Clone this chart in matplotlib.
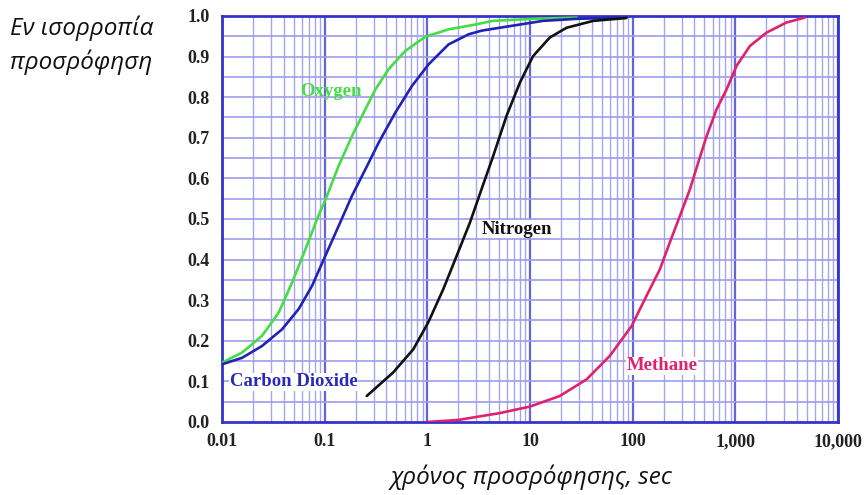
import matplotlib
matplotlib.use("Agg")
import matplotlib.pyplot as plt
import numpy as np
from matplotlib.ticker import FixedLocator, FixedFormatter

# adsorption curves, fraction of equilibrium vs time (sec)
oxygen_t = [0.01, 0.0157, 0.0245, 0.0356, 0.0481, 0.0649, 0.0841, 0.1054,
            0.137, 0.1845, 0.249, 0.312, 0.42, 0.61, 0.96, 1.61, 2.94,
            4.36, 10.7, 28.6]
oxygen_f = [0.146, 0.171, 0.212, 0.269, 0.343, 0.425, 0.499, 0.557,
            0.631, 0.704, 0.77, 0.819, 0.869, 0.914, 0.949, 0.967, 0.979,
            0.988, 0.993, 0.996]

co2_t = [0.01, 0.0157, 0.0245, 0.0384, 0.0558, 0.0753, 0.1015, 0.137,
         0.1845, 0.249, 0.336, 0.488, 0.71, 1.03, 1.61, 2.53, 3.4,
         6.37, 13.4, 28.6, 75.0]
co2_f = [0.142, 0.158, 0.187, 0.228, 0.278, 0.335, 0.409, 0.483,
         0.557, 0.622, 0.688, 0.762, 0.828, 0.881, 0.93, 0.955, 0.964,
         0.975, 0.988, 0.993, 0.996]

nitrogen_t = [0.257, 0.465, 0.73, 1.02, 1.43, 1.93, 2.6, 3.37, 4.38, 5.91,
              7.98, 10.7, 15.6, 22.7, 41.3, 87.0]
nitrogen_f = [0.064, 0.122, 0.179, 0.245, 0.327, 0.409, 0.491, 0.573, 0.655,
              0.754, 0.836, 0.901, 0.947, 0.971, 0.988, 0.995]

methane_t = [1.0, 2.0, 5.1, 10.0, 19.5, 35.6, 60.0, 97.5, 136.0, 184.0,
             230.0, 288.0, 361.0, 435.0, 525.0, 656.0, 821.0, 1027.0,
             1385.0, 2010.0, 3150.0, 4750.0]
methane_f = [0.0, 0.005, 0.022, 0.038, 0.064, 0.105, 0.163, 0.236, 0.31,
             0.376, 0.442, 0.507, 0.573, 0.639, 0.704, 0.77, 0.819, 0.877,
             0.926, 0.959, 0.984, 0.996]

xticks = [0.01, 0.1, 1, 10, 100, 1000, 10000]
xlabels = ["0.01", "0.1", "1", "10", "100", "1,000", "10,000"]
yticks = np.round(np.arange(0, 1.01, 0.1), 1)

fig = plt.figure(figsize=(8.65, 4.95), dpi=100)
ax = fig.add_axes([0.2566, 0.1475, 0.9688 - 0.2566, 0.9677 - 0.1475])

ax.set_xscale("log")
ax.set_xlim(0.01, 10000)
ax.set_ylim(0, 1.0)

# graph-paper grid
minor_x = [m * 10.0 ** e for e in range(-2, 4) for m in range(2, 10)]
for x in minor_x:
    ax.axvline(x, color="#a4a4f0", lw=1.0, zorder=0)
for x in xticks:
    ax.axvline(x, color="#6464d6", lw=1.6, zorder=0)
for y in np.arange(0.05, 1.0, 0.05):
    ax.axhline(y, color="#9c9cec", lw=1.2, zorder=0)

line = dict(lw=1.9, zorder=3, solid_joinstyle="round", solid_capstyle="round")
ax.plot(oxygen_t, oxygen_f, color="#44dd44", **line)
ax.plot(co2_t, co2_f, color="#2222b4", **line)
ax.plot(nitrogen_t, nitrogen_f, color="#111111", **line)
ax.plot(methane_t, methane_f, color="#e0226e", **line)

lab = dict(family="Liberation Serif", weight="bold", fontsize=13.5, zorder=4)
box = dict(fc="white", ec="none", pad=0.5)
ax.text(0.115, 0.815, "Oxygen", color="#44dd44", ha="center", va="center", **lab)
ax.text(0.0499, 0.0985, "Carbon Dioxide", color="#2a2ab8", ha="center",
        va="center", bbox=box, **lab)
ax.text(7.4, 0.475, "Nitrogen", color="#111111", ha="center", va="center",
        bbox=box, **lab)
ax.text(194, 0.138, "Methane", color="#e0226e", ha="center", va="center",
        bbox=box, **lab)

ax.xaxis.set_major_locator(FixedLocator(xticks))
ax.xaxis.set_major_formatter(FixedFormatter(xlabels))
ax.xaxis.set_minor_locator(FixedLocator([]))
ax.set_yticks(yticks)
ax.set_yticklabels([f"{v:.1f}" for v in yticks])
ax.tick_params(axis="both", length=0, labelsize=13, colors="#222222")
ax.tick_params(axis="x", pad=8)
ax.tick_params(axis="y", pad=9)
for t in ax.get_xticklabels() + ax.get_yticklabels():
    t.set_fontfamily("Liberation Serif")
    t.set_fontweight("bold")

for s in ax.spines.values():
    s.set_color("#3333cc")
    s.set_linewidth(2.0)

greek = dict(family="Open Sans", style="italic", fontsize=17.5, color="#111111")
fig.text(0.012, 0.943, "Εν ισορροπία", ha="left", va="center", **greek)
fig.text(0.012, 0.875, "προσρόφηση", ha="left", va="center", **greek)
fig.text(0.614, 0.035, "χρόνος προσρόφησης, sec", ha="center", va="center", **greek)

fig.savefig("out.png", dpi=100)
